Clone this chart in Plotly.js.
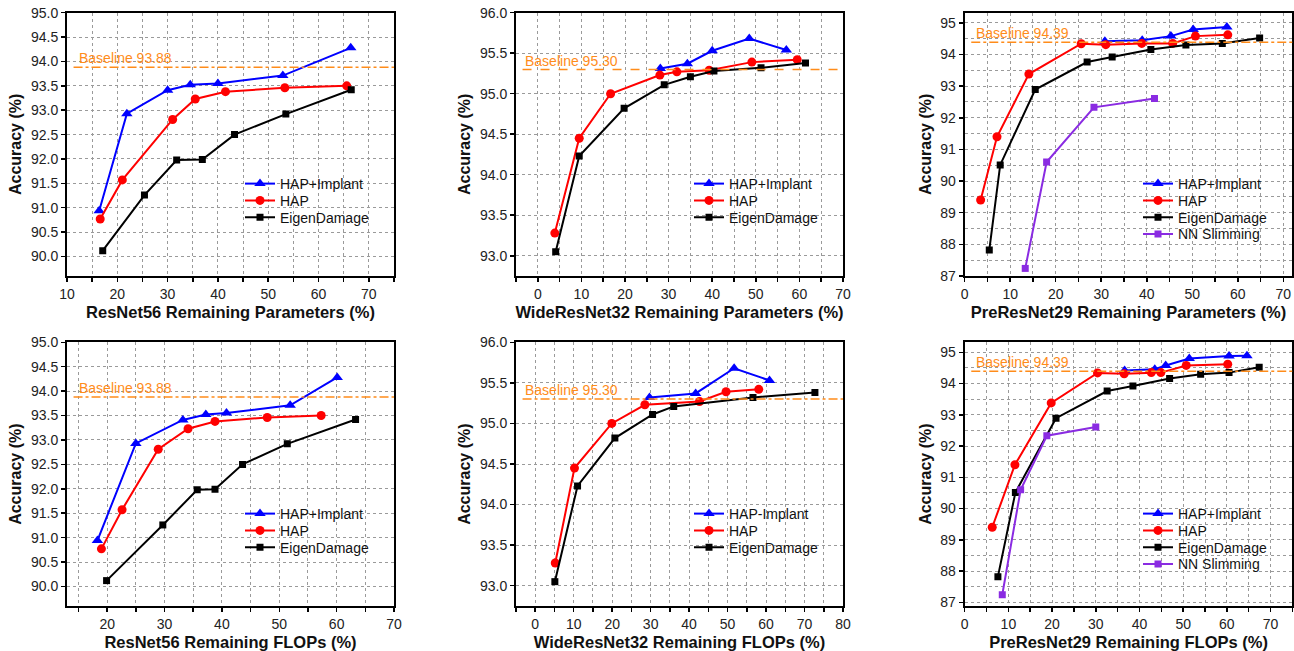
<!DOCTYPE html>
<html>
<head>
<meta charset="utf-8">
<script src="https://cdn.plot.ly/plotly-3.0.1.min.js"></script>
<style>html,body{margin:0;padding:0;background:#fff;}#chart{width:1294px;height:651px;}</style>
</head>
<body>
<div id="chart"></div>
<script>
// ---------- Data ----------
// Panel 1: ResNet56 Remaining Parameters (%)
const P1_IMPLANT_X = [16.4, 21.9, 30.0, 34.5, 40.0, 52.9, 66.4];
const P1_IMPLANT_Y = [90.94, 92.93, 93.41, 93.52, 93.55, 93.71, 94.28];
const P1_HAP_X = [16.6, 21.0, 31.0, 35.5, 41.5, 53.3, 65.6];
const P1_HAP_Y = [90.77, 91.57, 92.81, 93.23, 93.38, 93.46, 93.50];
const P1_EIGEN_X = [17.1, 25.4, 31.8, 36.9, 43.3, 53.5, 66.5];
const P1_EIGEN_Y = [90.12, 91.26, 91.98, 91.99, 92.50, 92.92, 93.42];

// Panel 2: WideResNet32 Remaining Parameters (%)
const P2_IMPLANT_X = [28.1, 34.3, 40.0, 48.5, 57.0];
const P2_IMPLANT_Y = [95.31, 95.37, 95.53, 95.68, 95.54];
const P2_HAP_X = [3.9, 9.5, 16.7, 28.0, 31.9, 39.3, 49.1, 59.5];
const P2_HAP_Y = [93.28, 94.45, 95.00, 95.23, 95.27, 95.29, 95.39, 95.42];
const P2_EIGEN_X = [4.1, 9.5, 19.8, 29.0, 35.0, 40.4, 51.2, 61.4];
const P2_EIGEN_Y = [93.05, 94.23, 94.82, 95.11, 95.21, 95.28, 95.32, 95.38];

// Panel 3: PreResNet29 Remaining Parameters (%)
const P3_IMPLANT_X = [30.8, 39.0, 45.3, 50.2, 57.6];
const P3_IMPLANT_Y = [94.42, 94.45, 94.58, 94.79, 94.87];
const P3_HAP_X = [3.5, 7.1, 14.1, 25.6, 31.0, 38.9, 45.7, 50.7, 57.8];
const P3_HAP_Y = [89.40, 91.40, 93.38, 94.34, 94.31, 94.35, 94.35, 94.58, 94.62];
const P3_EIGEN_X = [5.4, 7.8, 15.5, 26.9, 32.4, 40.9, 48.6, 56.6, 64.8];
const P3_EIGEN_Y = [87.82, 90.51, 92.89, 93.76, 93.92, 94.16, 94.30, 94.35, 94.52];
const P3_SLIM_X = [13.3, 18.0, 28.4, 41.7];
const P3_SLIM_Y = [87.24, 90.60, 92.33, 92.61];

// Panel 4: ResNet56 Remaining FLOPs (%)
const P4_IMPLANT_X = [18.3, 25.0, 33.2, 37.2, 40.8, 51.9, 60.1];
const P4_IMPLANT_Y = [90.94, 92.93, 93.41, 93.52, 93.55, 93.71, 94.28];
const P4_HAP_X = [19.0, 22.6, 28.9, 34.1, 38.8, 47.9, 57.3];
const P4_HAP_Y = [90.77, 91.57, 92.81, 93.23, 93.38, 93.46, 93.50];
const P4_EIGEN_X = [19.9, 29.7, 35.7, 38.8, 43.6, 51.4, 63.3];
const P4_EIGEN_Y = [90.12, 91.26, 91.98, 91.99, 92.50, 92.92, 93.42];

// Panel 5: WideResNet32 Remaining FLOPs (%)
const P5_IMPLANT_X = [29.7, 41.7, 51.7, 60.9];
const P5_IMPLANT_Y = [95.32, 95.37, 95.68, 95.53];
const P5_HAP_X = [5.2, 10.2, 19.9, 28.5, 42.7, 49.6, 58.1];
const P5_HAP_Y = [93.28, 94.45, 95.00, 95.23, 95.27, 95.39, 95.42];
const P5_EIGEN_X = [5.1, 11.0, 20.7, 30.5, 36.0, 56.6, 72.7];
const P5_EIGEN_Y = [93.05, 94.23, 94.82, 95.11, 95.21, 95.32, 95.38];

// Panel 6: PreResNet29 Remaining FLOPs (%)
const P6_IMPLANT_X = [36.6, 43.5, 46.0, 51.4, 60.5, 64.6];
const P6_IMPLANT_Y = [94.42, 94.46, 94.58, 94.80, 94.88, 94.89];
const P6_HAP_X = [6.3, 11.5, 19.8, 30.4, 36.5, 42.7, 44.9, 50.7, 60.2];
const P6_HAP_Y = [89.40, 91.40, 93.38, 94.34, 94.31, 94.35, 94.35, 94.58, 94.62];
const P6_EIGEN_X = [7.6, 11.6, 20.9, 32.6, 38.5, 46.9, 54.0, 60.5, 67.4];
const P6_EIGEN_Y = [87.82, 90.51, 92.89, 93.76, 93.92, 94.16, 94.30, 94.35, 94.52];
const P6_SLIM_X = [8.6, 12.8, 18.8, 30.0];
const P6_SLIM_Y = [87.24, 90.60, 92.33, 92.61];

// Titles, legend names and baselines
const X_TITLES = [
  "ResNet56 Remaining Parameters (%)",
  "WideResNet32 Remaining Parameters (%)",
  "PreResNet29 Remaining Parameters (%)",
  "ResNet56 Remaining FLOPs (%)",
  "WideResNet32 Remaining FLOPs (%)",
  "PreResNet29 Remaining FLOPs (%)"
];
const Y_TITLE = "Accuracy (%)";
const IMPLANT_NAMES = ["HAP+Implant", "HAP+Implant", "HAP+Implant", "HAP+Implant", "HAP-Implant", "HAP+Implant"];
const HAP_NAME = "HAP";
const EIGEN_NAME = "EigenDamage";
const SLIM_NAME = "NN Slimming";
const BASELINES = [93.88, 95.30, 94.39, 93.88, 95.30, 94.39];
const BASELINE_LABELS = ["Baseline 93.88", "Baseline 95.30", "Baseline 94.39", "Baseline 93.88", "Baseline 95.30", "Baseline 94.39"];

// ---------- Styling / layout ----------
const FONT = "Arial, 'Liberation Sans', sans-serif";
const W = 1294, H = 651;
const COLS = [[67, 394], [516, 843], [964.7, 1292.4]];
const ROWS = [[12.7, 276], [342.3, 606]];
const XRANGES = [[10, 75], [-5, 70], [0, 72], [13, 70], [-5, 80], [0, 75]];
const YRANGES = [[89.6, 95.0], [92.75, 96.0], [87, 95.32], [89.6, 95.0], [92.75, 96.0], [86.88, 95.32]];
const XDTICK = [10, 10, 10, 10, 10, 10];
const YDTICK = [0.5, 0.5, 1, 0.5, 0.5, 1];
const YFMT = [".1f", ".1f", "d", ".1f", ".1f", "d"];
const BASE_DASH = ["dashdot", "dash", "dashdot", "dashdot", "dashdot", "dashdot"];
const ANN_POS = [[11.9, 94.07], [-3.5, 95.41], [2.1, 94.67], [14.7, 94.06], [-3.3, 95.41], [2.06, 94.70]];
const LEG_TEXT_X = [280, 729, 1178];          // px where legend text starts
const LEG_FIRST_Y = [183, 513];               // px centre of first legend row
const LEG_STEP = 16.8;

const panels = [
  {impl: [P1_IMPLANT_X, P1_IMPLANT_Y], hap: [P1_HAP_X, P1_HAP_Y], eig: [P1_EIGEN_X, P1_EIGEN_Y]},
  {impl: [P2_IMPLANT_X, P2_IMPLANT_Y], hap: [P2_HAP_X, P2_HAP_Y], eig: [P2_EIGEN_X, P2_EIGEN_Y]},
  {impl: [P3_IMPLANT_X, P3_IMPLANT_Y], hap: [P3_HAP_X, P3_HAP_Y], eig: [P3_EIGEN_X, P3_EIGEN_Y], slim: [P3_SLIM_X, P3_SLIM_Y]},
  {impl: [P4_IMPLANT_X, P4_IMPLANT_Y], hap: [P4_HAP_X, P4_HAP_Y], eig: [P4_EIGEN_X, P4_EIGEN_Y]},
  {impl: [P5_IMPLANT_X, P5_IMPLANT_Y], hap: [P5_HAP_X, P5_HAP_Y], eig: [P5_EIGEN_X, P5_EIGEN_Y]},
  {impl: [P6_IMPLANT_X, P6_IMPLANT_Y], hap: [P6_HAP_X, P6_HAP_Y], eig: [P6_EIGEN_X, P6_EIGEN_Y], slim: [P6_SLIM_X, P6_SLIM_Y]}
];

const traces = [];
const layout = {
  width: W, height: H, autosize: false,
  margin: {l: 0, r: 0, t: 0, b: 0},
  paper_bgcolor: "#fff", plot_bgcolor: "#fff",
  font: {family: FONT, size: 14, color: "#000"},
  showlegend: true,
  shapes: [], annotations: []
};

let legendCount = 0;
function mkTrace(d, name, color, symbol, size, idx, k) {
  const n = idx + 1;
  const col = idx % 3, row = Math.floor(idx / 3);
  legendCount += 1;
  const lgKey = legendCount === 1 ? "legend" : "legend" + legendCount;
  const cy = LEG_FIRST_Y[row] + LEG_STEP * k;
  layout[lgKey] = {
    x: (LEG_TEXT_X[col] - 40) / W, y: 1 - (cy - 15) / H,
    xanchor: "left", yanchor: "top",
    bgcolor: "rgba(0,0,0,0)", borderwidth: 0,
    font: {family: FONT, size: 14, color: "#111"},
    itemwidth: 30
  };
  return {
    type: "scatter", mode: "lines+markers",
    x: d[0], y: d[1], name: name,
    xaxis: "x" + (n === 1 ? "" : n), yaxis: "y" + (n === 1 ? "" : n),
    legend: lgKey,
    line: {color: color, width: 2},
    marker: {color: color, symbol: symbol, size: size}
  };
}

const GRID = {showgrid: true, gridcolor: "#9a9a9a", griddash: "dot", gridwidth: 1};

panels.forEach((p, i) => {
  const n = i + 1;
  const col = i % 3, row = Math.floor(i / 3);
  const xs = n === 1 ? "" : String(n);
  traces.push(mkTrace(p.impl, IMPLANT_NAMES[i], "#0000FF", "triangle-up", 10, i, 0));
  traces.push(mkTrace(p.hap, HAP_NAME, "#FF0000", "circle", 9, i, 1));
  traces.push(mkTrace(p.eig, EIGEN_NAME, "#000000", "square", 7, i, 2));
  if (p.slim) traces.push(mkTrace(p.slim, SLIM_NAME, "#8A2BE2", "square", 7, i, 3));

  const xd = [COLS[col][0] / W, COLS[col][1] / W];
  const yd = [1 - ROWS[row][1] / H, 1 - ROWS[row][0] / H];
  layout["xaxis" + xs] = Object.assign({
    domain: xd, range: XRANGES[i], anchor: "y" + xs,
    dtick: XDTICK[i], tick0: 0,
    ticks: "outside", ticklen: 4, tickwidth: 1.5, tickcolor: "#000",
    showline: true, linewidth: 2, linecolor: "#000", mirror: true,
    minor: Object.assign({dtick: XDTICK[i] / 2, tick0: 0, ticks: "outside", ticklen: 4, tickwidth: 1.5, tickcolor: "#000"}, GRID),
    zeroline: false, fixedrange: true,
    tickfont: {family: FONT, size: 14, color: "#222"},
    title: {text: "<b>" + X_TITLES[i] + "</b>", font: {family: FONT, size: 16.5, color: "#111"}, standoff: 6}
  }, GRID);
  const yax = Object.assign({
    domain: yd, range: YRANGES[i], anchor: "x" + xs,
    dtick: YDTICK[i], tick0: 0, tickformat: YFMT[i],
    ticks: "outside", ticklen: 4, tickwidth: 1.5, tickcolor: "#000",
    showline: true, linewidth: 2, linecolor: "#000", mirror: true,
    zeroline: false, fixedrange: true,
    tickfont: {family: FONT, size: 14, color: "#222"},
    title: {text: "<b>" + Y_TITLE + "</b>", font: {family: FONT, size: 16, color: "#111"}, standoff: 5}
  }, GRID);
  if (YDTICK[i] === 1) {
    yax.minor = Object.assign({dtick: 0.5, tick0: 0, ticks: ""}, GRID);
  }
  layout["yaxis" + xs] = yax;

  // inward ticks on the top and right frame edges
  const on = String(n + 6);
  layout["xaxis" + on] = {
    overlaying: "x" + xs, anchor: "y" + xs, side: "top", range: XRANGES[i],
    dtick: XDTICK[i] / 2, tick0: 0, ticks: "inside", ticklen: 4, tickwidth: 1.5, tickcolor: "#000",
    showticklabels: false, showgrid: false, showline: false, zeroline: false, fixedrange: true
  };
  layout["yaxis" + on] = {
    overlaying: "y" + xs, anchor: "x" + xs, side: "right", range: YRANGES[i],
    dtick: 0.5, tick0: 0, ticks: "inside", ticklen: 4, tickwidth: 1.5, tickcolor: "#000",
    showticklabels: false, showgrid: false, showline: false, zeroline: false, fixedrange: true
  };

  layout.shapes.push({
    type: "line", xref: "x" + xs + " domain", yref: "y" + xs,
    x0: 0.02, x1: 1, y0: BASELINES[i], y1: BASELINES[i],
    line: {color: "#FF8C1A", width: 1.5, dash: BASE_DASH[i]}
  });
  layout.annotations.push({
    xref: "x" + xs, yref: "y" + xs, x: ANN_POS[i][0], y: ANN_POS[i][1],
    xanchor: "left", yanchor: "middle", showarrow: false,
    text: BASELINE_LABELS[i],
    font: {family: FONT, size: 14, color: "#FF8C1A"}
  });
});

Plotly.newPlot("chart", traces, layout, {staticPlot: true, displayModeBar: false});
</script>
</body>
</html>
